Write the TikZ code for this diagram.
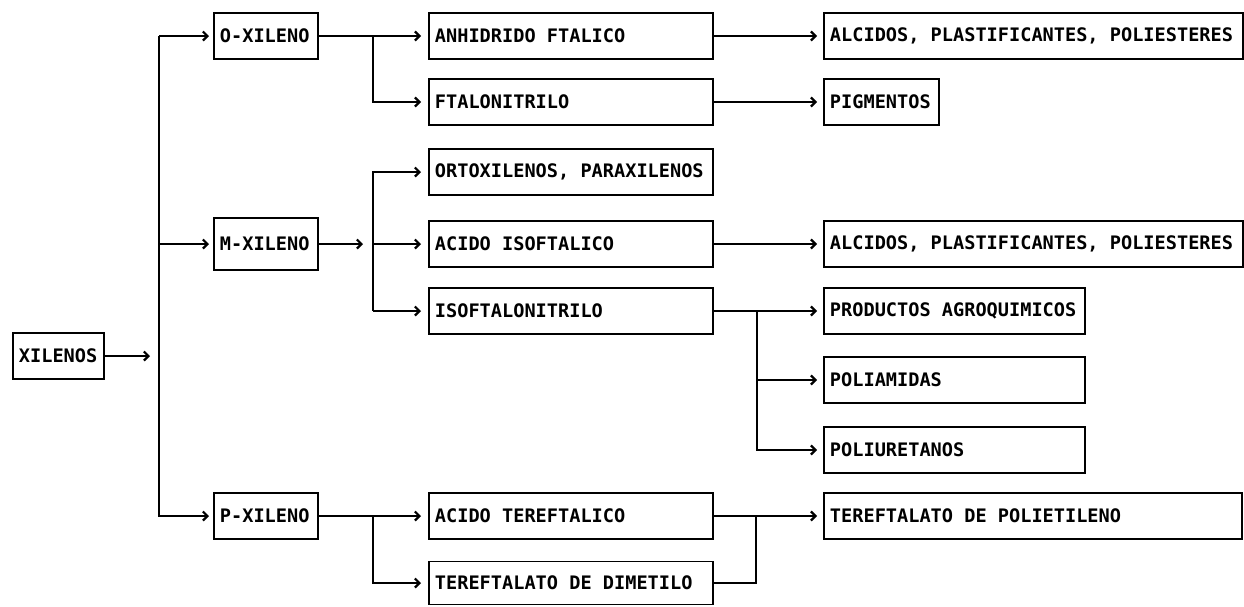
\documentclass[tikz,border=0pt]{standalone}
\usepackage{fontspec}
\setmonofont{DejaVu Sans Mono}
\usetikzlibrary{arrows.meta}
% fixed-width, left-aligned label inside a box
\newcommand\lbx[2]{\makebox[#1][l]{#2}}
\begin{document}
\begin{tikzpicture}[x=1pt,y=-1pt,
  box/.style={draw, line width=1.9pt, anchor=west, inner xsep=6pt, inner ysep=0pt,
    minimum height=46pt, font=\fontsize{18.6}{20}\selectfont\ttfamily\bfseries},
  link/.style={line width=1.9pt, -{Straight Barb[length=4.5pt,width=9pt,line width=2.2pt]}},
  plain/.style={line width=1.9pt}]
\useasboundingbox (0,0) rectangle (1244,606);

% source
\node[box] (xil) at (12,356) {\lbx{79pt}{XILENOS}};

% isomers
\node[box] (ox) at (213,36) {\lbx{92pt}{O-XILENO}};
\node[box, minimum height=52pt] (mx) at (213,244) {\lbx{92pt}{M-XILENO}};
\node[box] (px) at (213,516) {\lbx{92pt}{P-XILENO}};

% intermediates
\node[box] (an) at (428,36) {\lbx{272pt}{ANHIDRIDO FTALICO}};
\node[box] (ft) at (428,102) {\lbx{272pt}{FTALONITRILO}};
\node[box] (ort) at (428,172) {\lbx{272pt}{ORTOXILENOS, PARAXILENOS}};
\node[box] (ic) at (428,244) {\lbx{272pt}{ACIDO ISOFTALICO}};
\node[box] (isn) at (428,311) {\lbx{272pt}{ISOFTALONITRILO}};
\node[box] (at) at (428,516) {\lbx{272pt}{ACIDO TEREFTALICO}};
\node[box, minimum height=43pt] (dm) at (428,583) {\lbx{272pt}{TEREFTALATO DE DIMETILO}};

% end products
\node[box] (alc1) at (823,36) {\lbx{407pt}{ALCIDOS, PLASTIFICANTES, POLIESTERES}};
\node[box] (pig) at (823,102) {\lbx{103pt}{PIGMENTOS}};
\node[box] (alc2) at (823,244) {\lbx{407pt}{ALCIDOS, PLASTIFICANTES, POLIESTERES}};
\node[box] (pro) at (823,311) {\lbx{249pt}{PRODUCTOS AGROQUIMICOS}};
\node[box] (pa) at (823,380) {\lbx{249pt}{POLIAMIDAS}};
\node[box] (pu) at (823,450) {\lbx{249pt}{POLIURETANOS}};
\node[box] (pet) at (823,516) {\lbx{406pt}{TEREFTALATO DE POLIETILENO}};

% branch points
\coordinate (xt) at (150,356);
\coordinate (tr) at (159,36);
\coordinate (bo) at (373,36);
\coordinate (mt) at (363,244);
\coordinate (bm) at (373,244);
\coordinate (bp) at (373,516);
\coordinate (bi) at (757,311);
\coordinate (bq) at (756,516);

% trunk
\draw[link] (xil.east) -- (xt);
\draw[link] (tr) -- ([xshift=-4pt]ox.west);
\draw[link] (tr) |- ([xshift=-4pt]px.west);
\draw[link] (tr |- mx.west) -- ([xshift=-4pt]mx.west);

% isomers to intermediates
\draw[link] (ox.east) -- ([xshift=-7pt]an.west);
\draw[link] (bo) |- ([xshift=-7pt]ft.west);
\draw[link] (mx.east) -- (mt);
\draw[link] (bm |- isn.west) |- ([xshift=-7pt]ort.west);
\draw[link] (bm) -- ([xshift=-7pt]ic.west);
\draw[link] (bm |- isn.west) -- ([xshift=-7pt]isn.west);
\draw[link] (px.east) -- ([xshift=-7pt]at.west);
\draw[link] (bp) |- ([xshift=-7pt]dm.west);

% intermediates to end products
\draw[link] (an.east) -- ([xshift=-6pt]alc1.west);
\draw[link] (ft.east) -- ([xshift=-6pt]pig.west);
\draw[link] (ic.east) -- ([xshift=-6pt]alc2.west);
\draw[link] (isn.east) -- ([xshift=-6pt]pro.west);
\draw[link] (bi) |- ([xshift=-6pt]pu.west);
\draw[link] (bi |- pa.west) -- ([xshift=-6pt]pa.west);
\draw[link] (at.east) -- ([xshift=-6pt]pet.west);
\draw[plain] (dm.east) -| (bq);
\end{tikzpicture}
\end{document}
